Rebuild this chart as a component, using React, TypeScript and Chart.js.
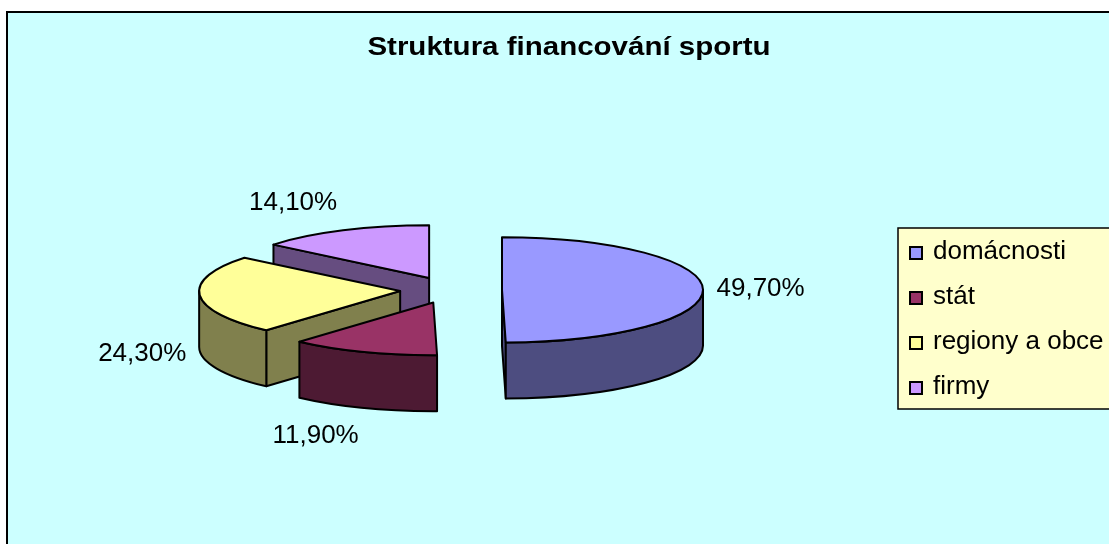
import React, { useEffect, useRef } from 'react';
import { Chart, registerables } from 'chart.js';

Chart.register(...registerables);

const TITLE = 'Struktura financování sportu';
const categories = ['domácnosti', 'stát', 'regiony a obce', 'firmy'];
const shares = [49.7, 11.9, 24.3, 14.1];

const topColors = ['#9999FF', '#993366', '#FFFF99', '#CC99FF'];
const wallColors = ['#4D4D80', '#4D1A33', '#80804D', '#664D80'];

const TILT = 0.262; // vertical squash of the pie (ry / rx)
const DEPTH = 56; // pie thickness in px
const EXPLODE = 51; // slice explosion in px (horizontal units)

const FONT = '"Liberation Sans", Arial, Helvetica, sans-serif';

function fmtPct(v: number): string {
  return v.toFixed(2).replace('.', ',') + '%';
}

type Slice = { i: number; cx: number; cy: number; s: number; e: number; R: number; mid: number };

function getSlices(chart: any): Slice[] {
  const meta = chart.getDatasetMeta(0);
  return meta.data.map((el: any, i: number) => {
    const { x, y, startAngle, endAngle, outerRadius } = el;
    const mid = (startAngle + endAngle) / 2;
    return {
      i,
      cx: x + EXPLODE * Math.cos(mid),
      cy: y + EXPLODE * TILT * Math.sin(mid),
      s: startAngle,
      e: endAngle,
      R: outerRadius,
      mid,
    };
  });
}

const pie3d = {
  id: 'pie3d',
  beforeDraw(chart: any) {
    const { ctx, width, height } = chart;
    ctx.save();
    ctx.fillStyle = '#FFFFFF';
    ctx.fillRect(0, 0, width, height);
    ctx.fillStyle = '#CCFFFF';
    ctx.fillRect(7, 12, width, height);
    ctx.strokeStyle = '#000000';
    ctx.lineWidth = 2;
    ctx.beginPath();
    ctx.moveTo(7, height + 4);
    ctx.lineTo(7, 12);
    ctx.lineTo(width + 4, 12);
    ctx.stroke();
    ctx.restore();
  },
  beforeDatasetsDraw(chart: any) {
    const ctx = chart.ctx as CanvasRenderingContext2D;
    const slices = getSlices(chart).sort((a, b) => a.cy - b.cy);
    ctx.save();
    ctx.lineWidth = 2;
    ctx.lineJoin = 'round';
    ctx.strokeStyle = '#000000';
    for (const sl of slices) {
      const { cx, cy, s, e, R, i } = sl;
      const ry = R * TILT;
      const px = (a: number) => cx + R * Math.cos(a);
      const py = (a: number) => cy + ry * Math.sin(a);
      // radial walls
      const radialWall = (a: number) => {
        ctx.beginPath();
        ctx.moveTo(cx, cy);
        ctx.lineTo(px(a), py(a));
        ctx.lineTo(px(a), py(a) + DEPTH);
        ctx.lineTo(cx, cy + DEPTH);
        ctx.closePath();
        ctx.fillStyle = wallColors[i];
        ctx.fill();
        ctx.stroke();
      };
      if (Math.cos(s) < 0) radialWall(s);
      if (Math.cos(e) > 0) radialWall(e);
      // outer curved wall (front half: 0..PI)
      const a0 = Math.max(s, 0);
      const a1 = Math.min(e, Math.PI);
      if (a1 > a0) {
        ctx.beginPath();
        ctx.ellipse(cx, cy, R, ry, 0, a0, a1, false);
        ctx.lineTo(px(a1), py(a1) + DEPTH);
        ctx.ellipse(cx, cy + DEPTH, R, ry, 0, a1, a0, true);
        ctx.closePath();
        ctx.fillStyle = wallColors[i];
        ctx.fill();
        ctx.stroke();
      }
      // top face
      ctx.beginPath();
      ctx.moveTo(cx, cy);
      ctx.lineTo(px(s), py(s));
      ctx.ellipse(cx, cy, R, ry, 0, s, e, false);
      ctx.closePath();
      ctx.fillStyle = topColors[i];
      ctx.fill();
      ctx.stroke();
    }
    ctx.restore();
    return false;
  },
  afterDraw(chart: any) {
    const ctx = chart.ctx as CanvasRenderingContext2D;
    ctx.save();
    // title
    ctx.fillStyle = '#000000';
    ctx.font = 'bold 25px ' + FONT;
    ctx.textAlign = 'center';
    ctx.textBaseline = 'alphabetic';
    ctx.save();
    ctx.translate(569, 54.5);
    ctx.scale(1.18, 1);
    ctx.fillText(TITLE, 0, 0);
    ctx.restore();

    // data labels
    ctx.font = '26px ' + FONT;
    ctx.textBaseline = 'middle';
    const values = chart.data.datasets[0].data as number[];
    for (const sl of getSlices(chart)) {
      const c = Math.cos(sl.mid);
      const sn = Math.sin(sl.mid);
      const ry = sl.R * TILT;
      const X = sl.cx + (sl.R + 13.5) * c;
      const Y = sl.cy + (ry + 30) * sn + (sn > 0 ? DEPTH : 0);
      ctx.textAlign = c >= 0 ? 'left' : 'right';
      ctx.fillText(fmtPct(values[sl.i]), X, Y);
    }

    // legend
    const lx = 898;
    const ly = 228;
    ctx.fillStyle = '#FFFFCC';
    ctx.fillRect(lx, ly, 260, 181);
    ctx.strokeStyle = '#000000';
    ctx.lineWidth = 1.5;
    ctx.strokeRect(lx, ly, 260, 181);
    ctx.font = '26px ' + FONT;
    ctx.textAlign = 'left';
    ctx.textBaseline = 'alphabetic';
    const labels = chart.data.labels as string[];
    labels.forEach((lab, i) => {
      const top = ly + 18 + i * 45;
      ctx.fillStyle = topColors[i];
      ctx.fillRect(909, top, 14, 14);
      ctx.lineWidth = 2;
      ctx.strokeStyle = '#000000';
      ctx.strokeRect(910, top + 1, 12, 12);
      ctx.fillStyle = '#000000';
      ctx.fillText(lab, 933, top + 13);
    });
    ctx.restore();
  },
};

export default function App() {
  const ref = useRef<HTMLCanvasElement | null>(null);
  useEffect(() => {
    if (!ref.current) return;
    const chart = new Chart(ref.current, {
      type: 'pie',
      data: {
        labels: categories,
        datasets: [
          {
            data: shares,
            backgroundColor: topColors,
            borderWidth: 0,
          },
        ],
      },
      options: {
        responsive: false,
        animation: false,
        radius: 201,
        layout: { padding: { left: 0, right: 207, top: 36, bottom: 0 } },
        plugins: {
          legend: { display: false },
          title: { display: false },
          tooltip: { enabled: false },
        },
        events: [],
      } as any,
      plugins: [pie3d],
    });
    return () => chart.destroy();
  }, []);
  return (
    <div style={{ position: 'fixed', left: 0, top: 0, width: 1109, height: 544, overflow: 'hidden' }}>
      <canvas ref={ref} width={1109} height={544} style={{ display: 'block' }} />
    </div>
  );
}
